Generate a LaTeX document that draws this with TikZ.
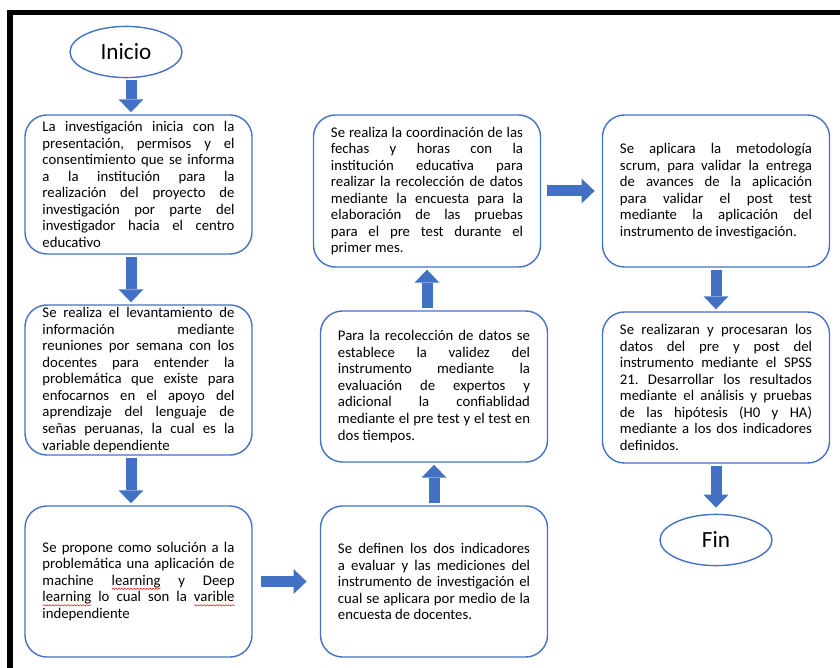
\documentclass[tikz,border=0pt]{standalone}
\usepackage{fontspec}
\setmainfont{Carlito}
\usetikzlibrary{shapes.geometric,arrows.meta,decorations.pathmorphing}
\definecolor{azul}{HTML}{4472C4}
\definecolor{flechazul}{HTML}{4270C2}
\hyphenpenalty=10000
\exhyphenpenalty=10000
\frenchspacing
\newlength{\largo}
\newcommand{\errata}[1]{\settowidth{\largo}{#1}\rlap{\tikz[overlay,baseline=0pt]\draw[red,sharp corners,line width=0.35pt,decorate,decoration={snake,amplitude=0.45pt,segment length=2.2pt}] (0pt,-2.4pt) -- (\largo,-2.4pt);}#1}

\begin{document}
\begin{tikzpicture}[x=0.025cm,y=-0.025cm,
  paso/.style={draw=azul,line width=1pt,rounded corners=0.55cm,minimum width=5.675cm,minimum height=3.775cm,text width=4.8cm,align=justify,inner sep=0pt,font=\fontsize{10.5}{11.75}\selectfont},
  terminal/.style={ellipse,draw=azul,line width=1pt,inner sep=0pt,minimum width=2.8cm,minimum height=1.28cm,font=\fontsize{16.5}{18}\selectfont},
  flecha/.style={flechazul,line width=0.275cm,-{Triangle[width=0.625cm,length=0.325cm,line width=0pt]},shorten <=0.05cm,shorten >=0.05cm}]
\useasboundingbox (0,0) rectangle (840,668);
\clip (0,0) rectangle (840,668);
\draw[line width=0.125cm] (10,700) -- (10,12.5) -- (870,12.5);

\node[terminal] (inicio) at (126,52) {Inicio};
\node[paso,minimum height=3.475cm] (presentacion) at (138.5,184.5) {La investigación inicia con la\linebreak presentación, permisos y el\linebreak consentimiento que se informa\linebreak a la institución para la\linebreak realización del proyecto de\linebreak investigación por parte del\linebreak investigador hacia el centro\linebreak educativo};
\node[paso,minimum height=3.75cm] (levantamiento) at (138.5,380) {Se realiza el levantamiento de\linebreak información mediante\linebreak reuniones por semana con los\linebreak docentes para entender la\linebreak problemática que existe para\linebreak enfocarnos en el apoyo del\linebreak aprendizaje del lenguaje de\linebreak señas peruanas, la cual es la\linebreak variable dependiente};
\node[paso] (propuesta) at (138.5,581.5) {Se propone como solución a la\linebreak problemática una aplicación de\linebreak machine \errata{learning} y Deep\linebreak \errata{learning} lo cual son la \errata{varible}\linebreak independiente};
\node[paso] (indicadores) at (434,581.5) {Se definen los dos indicadores\linebreak a evaluar y las mediciones del\linebreak instrumento de investigación el\linebreak cual se aplicara por medio de la\linebreak encuesta de docentes.};
\node[paso] (validez) at (434,386.5) {Para la recolección de datos se\linebreak establece la validez del\linebreak instrumento mediante la\linebreak evaluación de expertos y\linebreak adicional la confiablidad\linebreak mediante el pre test y el test en\linebreak dos tiempos.};
\node[paso,minimum height=3.8cm] (coordinacion) at (427,191) {Se realiza la coordinación de las\linebreak fechas y horas con la\linebreak institución educativa para\linebreak realizar la recolección de datos\linebreak mediante la encuesta para la\linebreak elaboración de las pruebas\linebreak para el pre test durante el\linebreak primer mes.};
\node[paso,minimum height=3.8cm] (scrum) at (716,191) {Se aplicara la metodología\linebreak scrum, para validar la entrega\linebreak de avances de la aplicación\linebreak para validar el post test\linebreak mediante la aplicación del\linebreak instrumento de investigación.};
\node[paso] (procesamiento) at (716,387.5) {Se realizaran y procesaran los\linebreak datos del pre y post del\linebreak instrumento mediante el SPSS\linebreak 21. Desarrollar los resultados\linebreak mediante el análisis y pruebas\linebreak de las hipótesis (H0 y HA)\linebreak mediante a los dos indicadores\linebreak definidos.};
\node[terminal] (fin) at (716,540) {Fin};

\coordinate (ejeA) at (131,0);
\draw[flecha] (inicio.south -| ejeA) -- (presentacion.north -| ejeA);
\draw[flecha] (presentacion.south -| ejeA) -- (levantamiento.north -| ejeA);
\draw[flecha] (levantamiento.south -| ejeA) -- (propuesta.north -| ejeA);
\draw[flecha,shorten <=0.2cm,shorten >=0.33cm] (propuesta.east) -- (indicadores.west);
\draw[flecha] (indicadores.north) -- (validez.south);
\draw[flecha] (validez.north -| coordinacion.south) -- (coordinacion.south);
\draw[flecha,shorten <=0.15cm,shorten >=0.18cm] (coordinacion.east) -- (scrum.west);
\draw[flecha] (scrum.south) -- (procesamiento.north);
\draw[flecha,shorten >=0.15cm] (procesamiento.south) -- (fin.north);
\end{tikzpicture}
\end{document}
